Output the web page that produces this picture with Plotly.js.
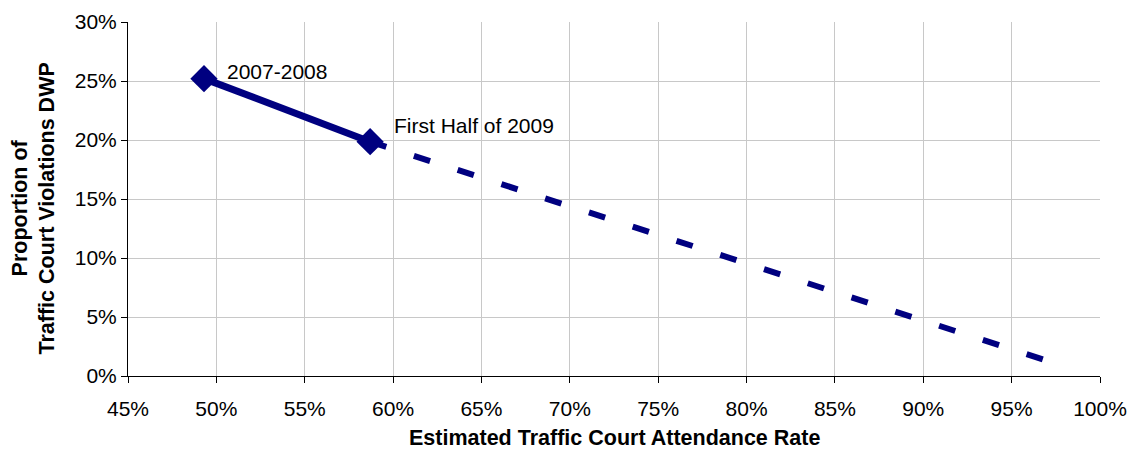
<!DOCTYPE html>
<html>
<head>
<meta charset="utf-8">
<script src="https://cdn.plot.ly/plotly-3.0.1.min.js"></script>
<style>html,body{margin:0;padding:0;background:#fff;}#chart{width:1133px;height:451px;}</style>
</head>
<body>
<div id="chart"></div>
<script>
// Observed data (attendance rate %, proportion DWP %)
var pointLabels = ["2007-2008", "First Half of 2009"];
var attendance = [49.3, 58.7];
var proportionDWP = [25.2, 19.86];
// Projected trend (dashed)
var projAttendance = [58.7, 97.0];
var projProportion = [19.86, 1.3];

var xTickVals = [45, 50, 55, 60, 65, 70, 75, 80, 85, 90, 95, 100];
var xTickText = ["45%", "50%", "55%", "60%", "65%", "70%", "75%", "80%", "85%", "90%", "95%", "100%"];
var yTickVals = [0, 5, 10, 15, 20, 25, 30];
var yTickText = ["0%", "5%", "10%", "15%", "20%", "25%", "30%"];

var xTitle = "Estimated Traffic Court Attendance Rate";
var yTitle = "Proportion of<br>Traffic Court Violations DWP";

var navy = "#000080";
var fontFam = "'Liberation Sans', Arial, sans-serif";

var traces = [
  {
    x: projAttendance, y: projProportion, type: "scatter", mode: "lines",
    line: {color: navy, width: 6, dash: "17px,29px"},
    hoverinfo: "skip", showlegend: false, cliponaxis: false
  },
  {
    x: attendance, y: proportionDWP, type: "scatter", mode: "lines+markers",
    line: {color: navy, width: 7},
    marker: {symbol: "diamond", size: 21, color: navy},
    showlegend: false, cliponaxis: false
  }
];

var shifts = [[21, 7], [22, 16]];
var annotations = pointLabels.map(function (t, i) {
  return {
    x: attendance[i], y: proportionDWP[i], xref: "x", yref: "y",
    text: t, showarrow: false, xanchor: "left", yanchor: "middle",
    xshift: shifts[i][0], yshift: shifts[i][1],
    font: {family: fontFam, size: 21, color: "#000"}
  };
});
// axis titles (as annotations for exact placement)
annotations.push({
  xref: "paper", yref: "paper", x: (33 - 128) / 972, y: (376 - 208.5) / 354,
  xanchor: "center", yanchor: "middle", textangle: -90, showarrow: false,
  text: "<b>" + yTitle + "</b>",
  font: {family: fontFam, size: 21.5, color: "#000"}
});
annotations.push({
  xref: "paper", yref: "paper", x: (614 - 128) / 972, y: (376 - 451) / 354,
  xanchor: "center", yanchor: "bottom", showarrow: false, borderpad: 0,
  text: "<b>" + xTitle + "</b>",
  font: {family: fontFam, size: 21.5, color: "#000"}
});

var layout = {
  width: 1133, height: 451,
  margin: {l: 128, r: 33, t: 22, b: 75},
  paper_bgcolor: "#fff", plot_bgcolor: "#fff",
  font: {family: fontFam, size: 21, color: "#000"},
  showlegend: false,
  xaxis: {
    range: [45, 100], tickvals: xTickVals, ticktext: xTickText,
    showgrid: true, gridcolor: "#c8c8c8", gridwidth: 1,
    showline: true, linecolor: "#000", linewidth: 1,
    ticks: "outside", ticklen: 6, tickcolor: "#000",
    ticklabelstandoff: 8,
    zeroline: false, automargin: false,
    tickfont: {family: fontFam, size: 21, color: "#000"}
  },
  yaxis: {
    range: [0, 30], tickvals: yTickVals, ticktext: yTickText,
    showgrid: true, gridcolor: "#c8c8c8", gridwidth: 1,
    showline: true, linecolor: "#000", linewidth: 1,
    ticks: "outside", ticklen: 6, tickcolor: "#000",
    zeroline: false, automargin: false,
    tickfont: {family: fontFam, size: 21, color: "#000"}
  },
  annotations: annotations
};

Plotly.newPlot("chart", traces, layout, {displayModeBar: false, staticPlot: true});
</script>
</body>
</html>
